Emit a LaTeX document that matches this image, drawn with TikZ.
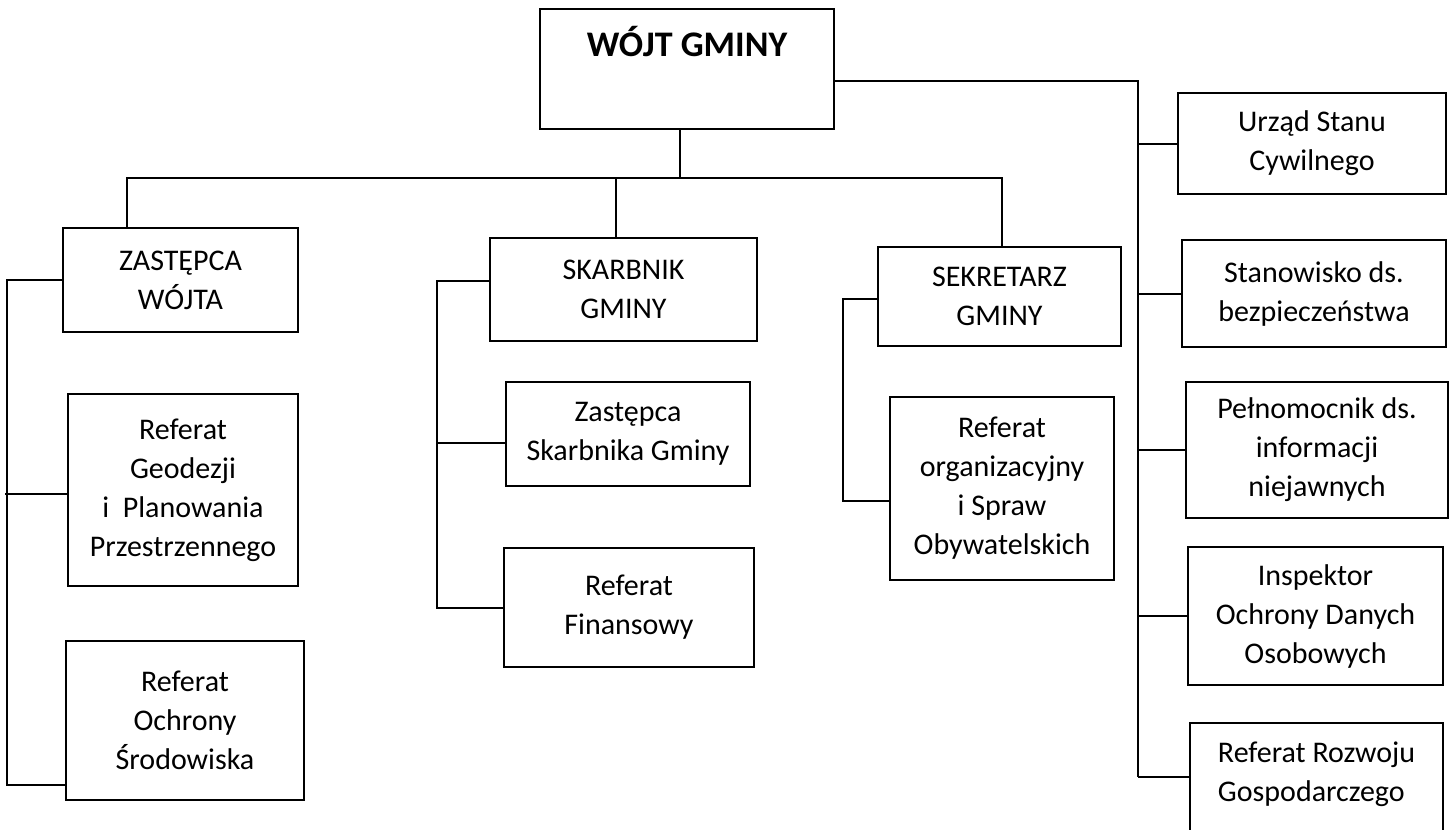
\documentclass[tikz,border=0pt]{standalone}
\usepackage{fontspec}
\setmainfont{Carlito}
\usepackage{tikz}
\usetikzlibrary{positioning, calc}

\begin{document}
\begin{tikzpicture}[x=0.5pt, y=-0.5pt,
	box/.style={draw, line width=1pt, align=center, inner sep=2pt,
		font=\fontsize{15}{19.5}\selectfont},
	every path/.style={line width=1pt}]

	\useasboundingbox (0,0) rectangle (1454,829);

	%//head of the office
	\node [box, minimum width=147pt, minimum height=60pt, text height=13pt, text depth=25.4pt,
		font=\bfseries\fontsize{18}{22}\selectfont] (wojt) at (687,69) {WÓJT GMINY};

	%//left column
	\node [box, minimum width=117.5pt, minimum height=52pt] (zast) at (180.5,280) {ZASTĘPCA\\WÓJTA};
	\node [box, minimum width=115pt, minimum height=96pt] (geod) at (183,490) {Referat\\Geodezji\\i~ Planowania\\Przestrzennego};
	\node [box, minimum width=119pt, minimum height=79.5pt] (ochr) at (185,720.5) {Referat\\Ochrony\\Środowiska};

	%//middle column
	\node [box, minimum width=133.5pt, minimum height=51.5pt] (skarb) at (623.5,289.5) {SKARBNIK\\GMINY};
	\node [box, minimum width=122pt, minimum height=52pt] (zskarb) at (628,434) {Zastępca\\Skarbnika Gminy};
	\node [box, minimum width=125pt, minimum height=59.5pt] (finans) at (629,607.5) {Referat\\Finansowy};

	\node [box, minimum width=121.5pt, minimum height=49.5pt] (sekr) at (999.5,296.5) {SEKRETARZ\\GMINY};
	\node [box, minimum width=112pt, minimum height=91.5pt] (org) at (1002,488.5) {Referat\\organizacyjny\\i Spraw\\Obywatelskich};

	%//right column
	\node [box, minimum width=134pt, minimum height=50.5pt] (usc) at (1312,143.5) {Urząd Stanu\\Cywilnego};
	\node [box, minimum width=132pt, minimum height=53.5pt] (bezp) at (1314,293.5) {Stanowisko ds.\\bezpieczeństwa};
	\node [box, minimum width=131pt, minimum height=68pt] (pelno) at (1317,450) {Pełnomocnik ds.\\informacji\\niejawnych};
	\node [box, minimum width=127.5pt, minimum height=69pt] (iod) at (1315.5,616) {Inspektor\\Ochrony Danych\\Osobowych};
	\node [box, align=left, minimum width=126.5pt, minimum height=68.5pt] (rozw) at (1316.5,791.5) {Referat Rozwoju\\Gospodarczego\\\mbox{}};

	%//main bus
	\coordinate (bus) at (680,178);
	\draw (wojt.south -| bus) -- (bus);
	\draw ($(zast.north west)+(65,0)$) |- (bus) -| ($(sekr.north west)+(125,0)$);
	\draw ($(skarb.north)+(-8,0)$) |- (bus);

	%//branches
	\draw (zast.west) -- ++(-55,0) |- ($(ochr.south west)+(0,-16)$);
	\draw ($(geod.west)+(0,4)$) -- ++(-62,0);

	\draw ($(skarb.west)+(0,-9)$) -- ++(-52,0) |- (finans.west);
	\draw ($(zskarb.west)+(0,9)$) -- ++(-68,0);

	\draw ($(sekr.west)+(0,2)$) -- ++(-34,0) |- ($(org.west)+(0,12)$);

	\coordinate (trunkR) at (1138,777);
	\draw ($(wojt.east)+(0,12)$) -| (trunkR);
	\foreach \n in {usc, bezp, pelno, iod}
	\draw (\n.west) -- (\n.west -| trunkR);
	\draw (trunkR) -- (trunkR -| rozw.west);
\end{tikzpicture}
\end{document}
